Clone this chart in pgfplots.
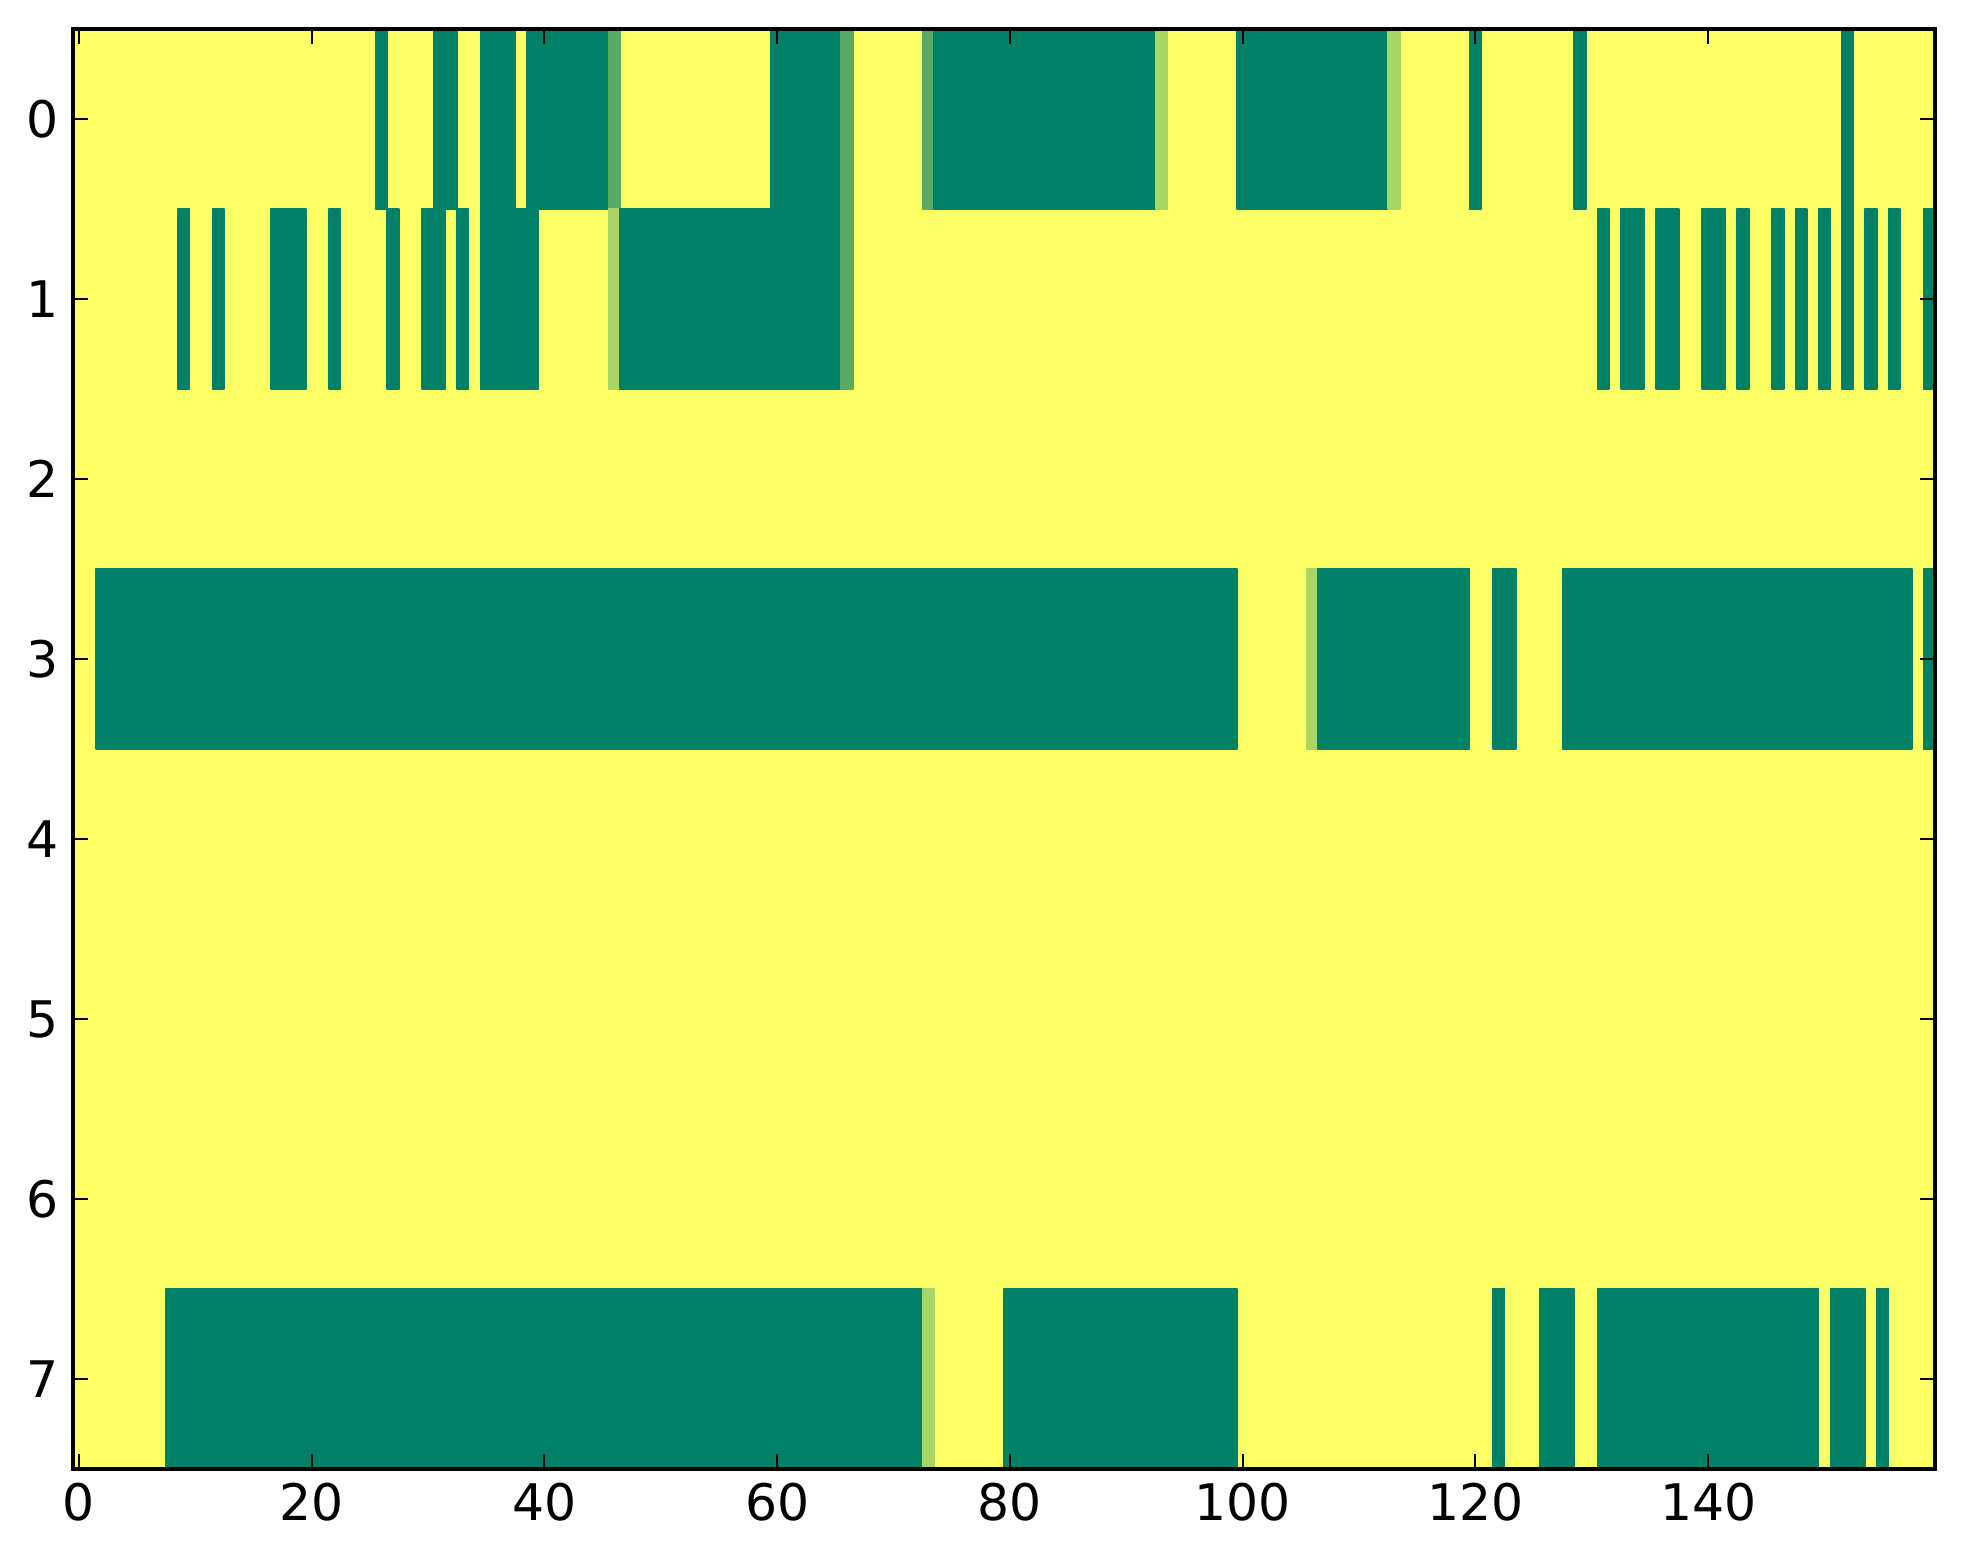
\documentclass[border=0pt]{standalone}
\usepackage{fontspec}
\setmainfont{DejaVu Sans}
\usepackage{pgfplots}
\pgfplotsset{compat=1.18}
\usepgfplotslibrary{patchplots}
\begin{document}
\begin{tikzpicture}
\begin{axis}[
  name=ax, scale only axis, width=465.5pt, height=360pt,
  xmin=-0.5, xmax=159.5, ymin=-0.5, ymax=7.5, y dir=reverse,
  xtick={0,20,...,140}, ytick={0,1,...,7},
  tick align=inside, major tick length=3.75pt,
  tick style={line width=0.5pt, black},
  axis line style={line width=0.83pt},
  ticklabel style={font=\fontsize{12.6}{15}\selectfont},
  /pgf/number format/assume math mode=true,
  colormap={summer}{rgb=(0,0.5,0.4) rgb=(1,1,0.4)},
  point meta min=0, point meta max=1,
  axis on top,
]
% background rows (value 1)
\addplot[patch, patch type=rectangle, shader=flat, point meta=explicit] coordinates {
(-0.5,-0.5)[1] (159.5,-0.5)[1] (159.5,0.5)[1] (-0.5,0.5)[1]
(-0.5,0.5)[1] (159.5,0.5)[1] (159.5,1.5)[1] (-0.5,1.5)[1]
(-0.5,1.5)[1] (159.5,1.5)[1] (159.5,2.5)[1] (-0.5,2.5)[1]
(-0.5,2.5)[1] (159.5,2.5)[1] (159.5,3.5)[1] (-0.5,3.5)[1]
(-0.5,3.5)[1] (159.5,3.5)[1] (159.5,4.5)[1] (-0.5,4.5)[1]
(-0.5,4.5)[1] (159.5,4.5)[1] (159.5,5.5)[1] (-0.5,5.5)[1]
(-0.5,5.5)[1] (159.5,5.5)[1] (159.5,6.5)[1] (-0.5,6.5)[1]
(-0.5,6.5)[1] (159.5,6.5)[1] (159.5,7.5)[1] (-0.5,7.5)[1]
};
% row 0
\addplot[patch, patch type=rectangle, shader=flat, point meta=explicit] coordinates {
(25.5,-0.5)[0] (26.5,-0.5)[0] (26.5,0.5)[0] (25.5,0.5)[0]
(30.5,-0.5)[0] (32.5,-0.5)[0] (32.5,0.5)[0] (30.5,0.5)[0]
(34.5,-0.5)[0] (37.5,-0.5)[0] (37.5,0.5)[0] (34.5,0.5)[0]
(38.5,-0.5)[0] (45.5,-0.5)[0] (45.5,0.5)[0] (38.5,0.5)[0]
(45.5,-0.5)[0.34] (46.5,-0.5)[0.34] (46.5,0.5)[0.34] (45.5,0.5)[0.34]
(59.5,-0.5)[0] (65.5,-0.5)[0] (65.5,0.5)[0] (59.5,0.5)[0]
(65.5,-0.5)[0.34] (66.5,-0.5)[0.34] (66.5,0.5)[0.34] (65.5,0.5)[0.34]
(72.5,-0.5)[0.34] (73.5,-0.5)[0.34] (73.5,0.5)[0.34] (72.5,0.5)[0.34]
(73.5,-0.5)[0] (92.5,-0.5)[0] (92.5,0.5)[0] (73.5,0.5)[0]
(92.5,-0.5)[0.66] (93.5,-0.5)[0.66] (93.5,0.5)[0.66] (92.5,0.5)[0.66]
(99.5,-0.5)[0] (112.5,-0.5)[0] (112.5,0.5)[0] (99.5,0.5)[0]
(112.5,-0.5)[0.66] (113.5,-0.5)[0.66] (113.5,0.5)[0.66] (112.5,0.5)[0.66]
(119.5,-0.5)[0] (120.5,-0.5)[0] (120.5,0.5)[0] (119.5,0.5)[0]
(128.5,-0.5)[0] (129.5,-0.5)[0] (129.5,0.5)[0] (128.5,0.5)[0]
(151.5,-0.5)[0] (152.5,-0.5)[0] (152.5,0.5)[0] (151.5,0.5)[0]
};
% row 1
\addplot[patch, patch type=rectangle, shader=flat, point meta=explicit] coordinates {
(8.5,0.5)[0] (9.5,0.5)[0] (9.5,1.5)[0] (8.5,1.5)[0]
(11.5,0.5)[0] (12.5,0.5)[0] (12.5,1.5)[0] (11.5,1.5)[0]
(16.5,0.5)[0] (19.5,0.5)[0] (19.5,1.5)[0] (16.5,1.5)[0]
(21.5,0.5)[0] (22.5,0.5)[0] (22.5,1.5)[0] (21.5,1.5)[0]
(26.5,0.5)[0] (27.5,0.5)[0] (27.5,1.5)[0] (26.5,1.5)[0]
(29.5,0.5)[0] (31.5,0.5)[0] (31.5,1.5)[0] (29.5,1.5)[0]
(32.5,0.5)[0] (33.5,0.5)[0] (33.5,1.5)[0] (32.5,1.5)[0]
(34.5,0.5)[0] (39.5,0.5)[0] (39.5,1.5)[0] (34.5,1.5)[0]
(45.5,0.5)[0.66] (46.5,0.5)[0.66] (46.5,1.5)[0.66] (45.5,1.5)[0.66]
(46.5,0.5)[0] (65.5,0.5)[0] (65.5,1.5)[0] (46.5,1.5)[0]
(65.5,0.5)[0.34] (66.5,0.5)[0.34] (66.5,1.5)[0.34] (65.5,1.5)[0.34]
(130.5,0.5)[0] (131.5,0.5)[0] (131.5,1.5)[0] (130.5,1.5)[0]
(132.5,0.5)[0] (134.5,0.5)[0] (134.5,1.5)[0] (132.5,1.5)[0]
(135.5,0.5)[0] (137.5,0.5)[0] (137.5,1.5)[0] (135.5,1.5)[0]
(139.5,0.5)[0] (141.5,0.5)[0] (141.5,1.5)[0] (139.5,1.5)[0]
(142.5,0.5)[0] (143.5,0.5)[0] (143.5,1.5)[0] (142.5,1.5)[0]
(145.5,0.5)[0] (146.5,0.5)[0] (146.5,1.5)[0] (145.5,1.5)[0]
(147.5,0.5)[0] (148.5,0.5)[0] (148.5,1.5)[0] (147.5,1.5)[0]
(149.5,0.5)[0] (150.5,0.5)[0] (150.5,1.5)[0] (149.5,1.5)[0]
(151.5,0.5)[0] (152.5,0.5)[0] (152.5,1.5)[0] (151.5,1.5)[0]
(153.5,0.5)[0] (154.5,0.5)[0] (154.5,1.5)[0] (153.5,1.5)[0]
(155.5,0.5)[0] (156.5,0.5)[0] (156.5,1.5)[0] (155.5,1.5)[0]
(158.5,0.5)[0] (159.5,0.5)[0] (159.5,1.5)[0] (158.5,1.5)[0]
};
% row 3
\addplot[patch, patch type=rectangle, shader=flat, point meta=explicit] coordinates {
(1.5,2.5)[0] (99.5,2.5)[0] (99.5,3.5)[0] (1.5,3.5)[0]
(105.5,2.5)[0.66] (106.5,2.5)[0.66] (106.5,3.5)[0.66] (105.5,3.5)[0.66]
(106.5,2.5)[0] (119.5,2.5)[0] (119.5,3.5)[0] (106.5,3.5)[0]
(121.5,2.5)[0] (123.5,2.5)[0] (123.5,3.5)[0] (121.5,3.5)[0]
(127.5,2.5)[0] (157.5,2.5)[0] (157.5,3.5)[0] (127.5,3.5)[0]
(158.5,2.5)[0] (159.5,2.5)[0] (159.5,3.5)[0] (158.5,3.5)[0]
};
% row 7
\addplot[patch, patch type=rectangle, shader=flat, point meta=explicit] coordinates {
(7.5,6.5)[0] (72.5,6.5)[0] (72.5,7.5)[0] (7.5,7.5)[0]
(72.5,6.5)[0.66] (73.5,6.5)[0.66] (73.5,7.5)[0.66] (72.5,7.5)[0.66]
(79.5,6.5)[0] (99.5,6.5)[0] (99.5,7.5)[0] (79.5,7.5)[0]
(121.5,6.5)[0] (122.5,6.5)[0] (122.5,7.5)[0] (121.5,7.5)[0]
(125.5,6.5)[0] (128.5,6.5)[0] (128.5,7.5)[0] (125.5,7.5)[0]
(130.5,6.5)[0] (149.5,6.5)[0] (149.5,7.5)[0] (130.5,7.5)[0]
(150.5,6.5)[0] (153.5,6.5)[0] (153.5,7.5)[0] (150.5,7.5)[0]
(154.5,6.5)[0] (155.5,6.5)[0] (155.5,7.5)[0] (154.5,7.5)[0]
};
\end{axis}
\path ([xshift=-18.25pt,yshift=-23.75pt]ax.south west) ([xshift=7pt,yshift=7.25pt]ax.north east);
\end{tikzpicture}
\end{document}
